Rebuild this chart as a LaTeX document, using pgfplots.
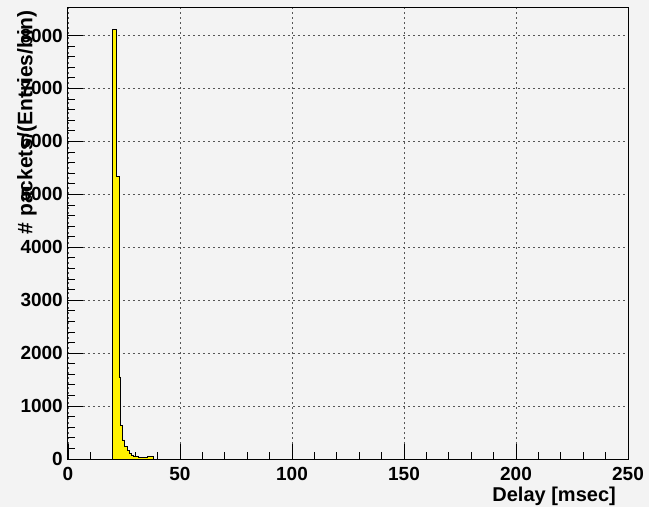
\documentclass[border=0pt]{standalone}
\usepackage{fontspec}
\setmainfont{Liberation Sans}
\usepackage{pgfplots}
\pgfplotsset{compat=1.18}
\definecolor{bg}{HTML}{F3F3F3}
\definecolor{gridc}{HTML}{555555}
\newcommand{\lf}{\bfseries\fontsize{19}{19}\selectfont}
\begin{document}
\begin{tikzpicture}[x=1pt,y=1pt]
\fill[bg] (0,0) rectangle (649,507);
\begin{axis}[
  at={(68pt,48pt)}, anchor=south west,
  scale only axis, width=560pt, height=451pt,
  xmin=0, xmax=250, ymin=0, ymax=8520,
  xtick={0,50,...,250}, minor x tick num=4,
  ytick={0,1000,...,8000}, minor y tick num=4,
  xtick pos=bottom, ytick pos=left,
  tick align=inside,
  major tick length=15pt, minor tick length=7pt,
  tick style={black, line width=0.8pt},
  axis line style={black, line width=1pt},
  grid=major,
  major grid style={gridc, line width=0.8pt, dash pattern=on 2pt off 3pt},
  scaled x ticks=false, scaled y ticks=false,
  /pgf/number format/1000 sep={},
  /pgf/number format/assume math mode=true,
  ticklabel style={font=\lf},
  yticklabel style={anchor=east, inner sep=0pt, xshift=-5pt},
  xticklabel style={anchor=north, inner sep=0pt, yshift=-8pt},
  axis background/.style={fill=bg},
  xlabel={Delay [msec]},
  ylabel={\# packets/(Entries/bin)},
  label style={inner sep=0pt},
  xlabel style={font=\bfseries\fontsize{20}{20}\selectfont, at={(axis description cs:0.9786,-0.082)}, anchor=east},
  ylabel style={font=\bfseries\fontsize{21}{21}\selectfont, at={(axis description cs:-0.0732,0.9956)}, anchor=east},
]
\addplot[const plot, fill=yellow, draw=black, line width=0.8pt] coordinates {
(20,0) (20,8110) (21.5,5330) (22.8,1550) (23.6,640) (24.5,360) (25.4,245)
(26.3,170) (27.2,113) (28.1,75) (29.0,57) (30,42) (31.5,32) (33,22)
(35.5,40) (38,0)
} \closedcycle;
\end{axis}
\pgfresetboundingbox
\path (0,0) rectangle (649,507);
\end{tikzpicture}
\end{document}
